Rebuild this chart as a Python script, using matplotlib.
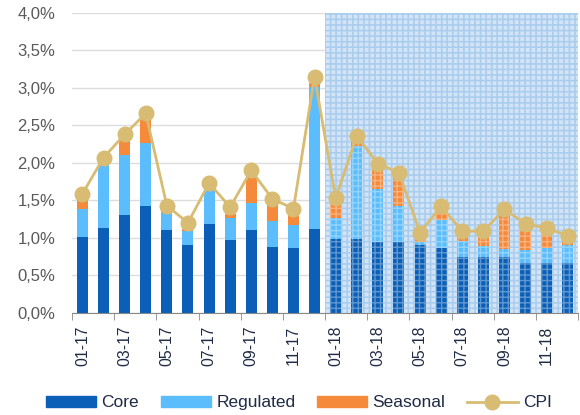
import numpy as np
import matplotlib
matplotlib.use("Agg")
import matplotlib.pyplot as plt
from matplotlib.patches import Patch
from matplotlib.lines import Line2D
from matplotlib.ticker import FuncFormatter

# ── Data ──────────────────────────────────────────────────────────────────────

months = ["01-17", "02-17", "03-17", "04-17", "05-17", "06-17",
          "07-17", "08-17", "09-17", "10-17", "11-17", "12-17",
          "01-18", "02-18", "03-18", "04-18", "05-18", "06-18",
          "07-18", "08-18", "09-18", "10-18", "11-18", "12-18"]

core      = [1.01, 1.13, 1.31, 1.43, 1.11, 0.90, 1.19, 0.97, 1.10, 0.88, 0.87, 1.12,
             0.98, 0.98, 0.94, 0.94, 0.91, 0.87, 0.74, 0.74, 0.74, 0.67, 0.67, 0.67]
regulated = [0.38, 0.85, 0.79, 0.84, 0.22, 0.19, 0.48, 0.30, 0.36, 0.35, 0.30, 1.89,
             0.29, 1.24, 0.71, 0.49, 0.03, 0.37, 0.22, 0.15, 0.11, 0.17, 0.20, 0.24]
seasonal  = [0.13, 0.03, 0.21, 0.33, 0.04, 0.03, 0.00, 0.05, 0.36, 0.23, 0.14, 0.06,
             0.20, 0.07, 0.28, 0.37, 0.06, 0.09, 0.05, 0.12, 0.46, 0.27, 0.17, 0.04]
cpi       = [1.59, 2.07, 2.38, 2.66, 1.43, 1.20, 1.73, 1.41, 1.90, 1.52, 1.39, 3.15,
             1.53, 2.36, 1.99, 1.87, 1.07, 1.42, 1.09, 1.09, 1.38, 1.19, 1.13, 1.03]

forecast_start = "01-18"

# ── Style ─────────────────────────────────────────────────────────────────────

CORE_COLOR = "#0B5FB6"
REG_COLOR  = "#5BBDFB"
SEAS_COLOR = "#F58A3A"
CPI_COLOR  = "#D8BC73"
TEXT_COLOR = "#1F2A44"

plt.rcParams["font.family"] = ["Liberation Sans", "DejaVu Sans"]
plt.rcParams["hatch.linewidth"] = 1.0

fig = plt.figure(figsize=(5.8, 4.15), dpi=100)
ax = fig.add_axes([0.124, 0.246, 0.873, 0.723])

x = np.arange(len(months))
core_a = np.array(core)
reg_a = np.array(regulated)
seas_a = np.array(seasonal)

w = 0.52
ax.bar(x, core_a, w, color=CORE_COLOR, zorder=2)
ax.bar(x, reg_a, w, bottom=core_a, color=REG_COLOR, zorder=2)
ax.bar(x, seas_a, w, bottom=core_a + reg_a, color=SEAS_COLOR, zorder=2)

# forecast area: dotted blue background + faint texture over the bars
fs = months.index(forecast_start) - 0.5
fe = len(months) - 0.5
ax.axvspan(fs, fe, facecolor="#D2E4F6", edgecolor="#7DB3E6",
           hatch="+++", linewidth=0, zorder=1)
ax.axvspan(fs, fe, facecolor="none", edgecolor=(1, 1, 1, 0.35),
           hatch="+++", linewidth=0, zorder=3)

ax.plot(x, cpi, color=CPI_COLOR, lw=2.0, marker="o", markersize=10.5,
        markerfacecolor=CPI_COLOR, markeredgecolor=CPI_COLOR, zorder=4)

# ── Axes ──────────────────────────────────────────────────────────────────────

ax.set_xlim(-0.5, fe)
ax.set_ylim(0, 4.0)
ax.set_yticks(np.arange(0, 4.01, 0.5))
ax.yaxis.set_major_formatter(FuncFormatter(lambda v, p: f"{v:.1f}%".replace(".", ",")))
ax.tick_params(axis="y", length=0, labelsize=12, labelcolor="#595959", pad=12)
ax.grid(axis="y", color="#DDDDDD", lw=1.0, zorder=0)
ax.set_axisbelow(True)

ax.set_xticks(x[::2])
ax.set_xticklabels(months[::2], rotation=90)
ax.set_xticks(np.arange(-0.5, len(months), 2), minor=True)
ax.tick_params(axis="x", which="major", length=0, labelsize=11.3, labelcolor=TEXT_COLOR, pad=9)
ax.tick_params(axis="x", which="minor", length=5, color="#888888")

for s in ["top", "right", "left"]:
    ax.spines[s].set_visible(False)
ax.spines["bottom"].set_color("#888888")

handles = [
    Patch(color=CORE_COLOR, label="Core"),
    Patch(color=REG_COLOR, label="Regulated"),
    Patch(color=SEAS_COLOR, label="Seasonal"),
    Line2D([], [], color=CPI_COLOR, lw=2.0, marker="o", markersize=10.5, label="CPI"),
]
fig.legend(handles=handles, loc="center", bbox_to_anchor=(0.515, 0.029), ncol=4,
           frameon=False, fontsize=12.5, labelcolor=TEXT_COLOR, handlelength=2.9,
           handleheight=0.65, handletextpad=0.3, columnspacing=1.25)

fig.savefig("out.png", dpi=100)
